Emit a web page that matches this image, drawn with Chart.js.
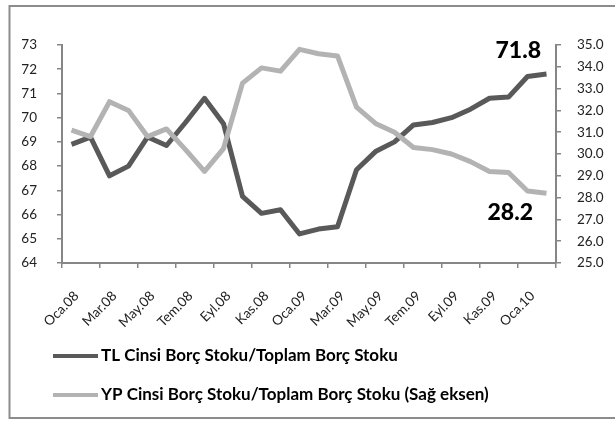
<!DOCTYPE html>
<html>
<head>
<meta charset="utf-8">
<script src="https://cdn.jsdelivr.net/npm/chart.js@4"></script>
<style>
html,body{margin:0;padding:0;background:#fff;}
#wrap{position:relative;width:615px;height:421px;}
</style>
</head>
<body>
<div id="wrap"><canvas id="c" width="615" height="421"></canvas></div>
<script>
const categories = ["Oca.08","Şub.08","Mar.08","Nis.08","May.08","Haz.08","Tem.08","Ağu.08","Eyl.08","Eki.08","Kas.08","Ara.08",
  "Oca.09","Şub.09","Mar.09","Nis.09","May.09","Haz.09","Tem.09","Ağu.09","Eyl.09","Eki.09","Kas.09","Ara.09",
  "Oca.10","Şub.10"];
const tlShare = [68.9,69.2,67.6,68.0,69.2,68.85,69.8,70.8,69.75,66.75,66.05,66.2,
  65.2,65.4,65.5,67.85,68.6,69.0,69.7,69.8,70.0,70.35,70.8,70.85,71.7,71.8];
const ypShare = [31.1,30.8,32.4,32.0,30.8,31.15,30.2,29.2,30.25,33.25,33.95,33.8,
  34.8,34.6,34.5,32.15,31.4,31.0,30.3,30.2,30.0,29.65,29.2,29.15,28.3,28.2];
const leftTicks = [64,65,66,67,68,69,70,71,72,73];
const rightTicks = [25,26,27,28,29,30,31,32,33,34,35];
const seriesNames = ["TL Cinsi Borç Stoku/Toplam Borç Stoku","YP Cinsi Borç Stoku/Toplam Borç Stoku (Sağ eksen)"];

const FONT = "Lato";
const AXIS = "#868686";

const framePlugin = {
  id:'frame',
  beforeDraw(chart){
    const ctx = chart.ctx;
    ctx.save();
    ctx.fillStyle = '#fff';
    ctx.fillRect(0,0,chart.width,chart.height);
    ctx.strokeStyle = '#8c8c8c';
    ctx.lineWidth = 2;
    ctx.strokeRect(9.5,6,640,412);
    ctx.restore();
  }
};

const endLabelPlugin = {
  id:'endLabels',
  afterDatasetsDraw(chart){
    const ctx = chart.ctx;
    ctx.save();
    ctx.font = "900 23px " + FONT;
    ctx.fillStyle = '#000';
    ctx.textAlign = 'right';
    ctx.textBaseline = 'middle';
    const offs = [[-5.5,-23],[-13.5,19]];
    chart.data.datasets.forEach((ds,i)=>{
      const meta = chart.getDatasetMeta(i);
      const last = meta.data.length-1;
      const pt = meta.data[last];
      ctx.fillText(ds.data[last].toFixed(1), pt.x+offs[i][0], pt.y+offs[i][1]);
    });
    ctx.restore();
  }
};

const legendPlugin = {
  id:'customLegend',
  afterDraw(chart){
    const ctx = chart.ctx;
    ctx.save();
    const rows = [356,395];
    chart.data.datasets.forEach((ds,i)=>{
      const y = rows[i];
      ctx.strokeStyle = ds.borderColor;
      ctx.lineWidth = 4;
      ctx.beginPath();
      ctx.moveTo(53,y);
      ctx.lineTo(98,y);
      ctx.stroke();
      ctx.font = "bold 17px " + FONT;
      ctx.fillStyle = '#000';
      ctx.textAlign = 'left';
      ctx.textBaseline = 'middle';
      ctx.fillText(ds.label, 101, y);
    });
    ctx.restore();
  }
};

new Chart(document.getElementById('c'), {
  type:'line',
  data:{
    labels: categories,
    datasets:[
      {label: seriesNames[0], data: tlShare, yAxisID:'y', borderColor:'#595959', backgroundColor:'#595959',
       borderWidth:5, pointRadius:0, tension:0, order:1, borderJoinStyle:'round'},
      {label: seriesNames[1], data: ypShare, yAxisID:'y1', borderColor:'#b3b3b3', backgroundColor:'#b3b3b3',
       borderWidth:5, pointRadius:0, tension:0, order:0, borderJoinStyle:'round'}
    ]
  },
  options:{
    responsive:false,
    animation:false,
    layout:{padding:{top:45,left:0,right:0,bottom:0}},
    plugins:{legend:{display:false}, tooltip:{enabled:false}},
    scales:{
      x:{
        type:'category', offset:true,
        grid:{offset:true, drawOnChartArea:false, drawTicks:true, tickLength:5, lineWidth:1.5,
          color:(c)=> (c.index===undefined || c.index%2===0) ? AXIS : 'rgba(0,0,0,0)'},
        border:{color:AXIS, width:2},
        ticks:{autoSkip:false, maxRotation:45, minRotation:45, labelOffset:5, padding:20,
          font:{family:FONT, size:13.5}, color:'#222',
          callback:function(v,i){ return i%2===0 ? this.getLabelForValue(v) : ''; }},
        afterFit:(s)=>{ s.height = 421-263; }
      },
      y:{
        position:'left', min:leftTicks[0], max:leftTicks[leftTicks.length-1],
        afterBuildTicks:(s)=>{ s.ticks = leftTicks.map(v=>({value:v})); },
        grid:{drawOnChartArea:false, tickLength:5, color:AXIS, lineWidth:1.5},
        border:{color:AXIS, width:2},
        ticks:{padding:20, font:{family:FONT, size:13.5}, color:'#222'},
        afterFit:(s)=>{ s.width = 62; }
      },
      y1:{
        position:'right', min:rightTicks[0], max:rightTicks[rightTicks.length-1],
        afterBuildTicks:(s)=>{ s.ticks = rightTicks.map(v=>({value:v})); },
        grid:{drawOnChartArea:false, tickLength:5, color:AXIS, lineWidth:1.5},
        border:{color:AXIS, width:2},
        ticks:{padding:16, font:{family:FONT, size:13.5}, color:'#222',
          callback:(v)=> Number(v).toFixed(1)},
        afterFit:(s)=>{ s.width = 59; }
      }
    }
  },
  plugins:[framePlugin, endLabelPlugin, legendPlugin]
});
</script>
</body>
</html>
